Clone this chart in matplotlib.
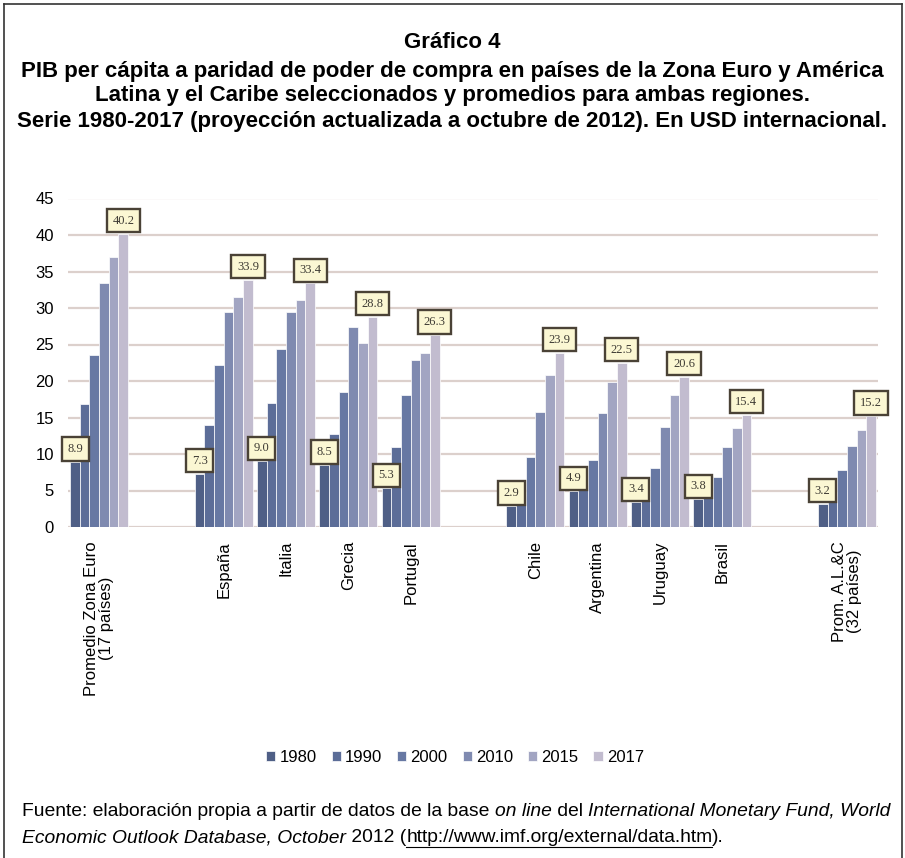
import numpy as np
import matplotlib
matplotlib.use("Agg")
import matplotlib.pyplot as plt
from matplotlib import font_manager
from matplotlib.lines import Line2D

# datos (miles de USD internacionales, PPA)
paises = ['Promedio Zona Euro\n(17 países)', 'España', 'Italia', 'Grecia', 'Portugal',
          'Chile', 'Argentina', 'Uruguay', 'Brasil', 'Prom. A.L.&C\n(32 países)']
anios = ['1980', '1990', '2000', '2010', '2015', '2017']
v1980 = [8.9, 7.3, 9.0, 8.5, 5.3, 2.9, 4.9, 3.4, 3.8, 3.2]
v1990 = [16.8, 14.0, 17.0, 12.7, 11.0, 4.3, 5.8, 5.0, 5.0, 4.3]
v2000 = [23.6, 22.2, 24.4, 18.5, 18.1, 9.6, 9.2, 8.1, 6.9, 7.8]
v2010 = [33.4, 29.5, 29.5, 27.4, 22.9, 15.8, 15.6, 13.7, 11.0, 11.1]
v2015 = [37.0, 31.5, 31.1, 25.2, 23.8, 20.8, 19.9, 18.1, 13.6, 13.3]
v2017 = [40.2, 33.9, 33.4, 28.8, 26.3, 23.9, 22.5, 20.6, 15.4, 15.2]
series = [v1980, v1990, v2000, v2010, v2015, v2017]
colores = ['#4f5f86', '#5c6d98', '#6778a3', '#7f8ab0', '#a2a5c2', '#c2bccf']

# fuentes
nombres = {f.name for f in font_manager.fontManager.ttflist}
narrow = 'Liberation Sans Narrow' if 'Liberation Sans Narrow' in nombres else 'Liberation Sans'
plt.rcParams['font.family'] = ['Liberation Sans', 'DejaVu Sans']

W, H = 905, 858
fig = plt.figure(figsize=(W / 100, H / 100), dpi=100)

def fx(px):
    return px / W

def fy(py):
    return 1 - py / H

# marco exterior
for (x0, y0, x1, y1) in [(4, 4, 4, H), (4, 4, 902, 4), (902, 4, 902, H)]:
    fig.add_artist(Line2D([fx(x0), fx(x1)], [fy(y0), fy(y1)], color='#333333', lw=1.2))

# titulo
fig.text(0.5, fy(42), 'Gráfico 4', ha='center', va='center', fontsize=16,
         fontweight='bold', family=narrow)
lineas = ['PIB per cápita a paridad de poder de compra en países de la Zona Euro y América',
          'Latina y el Caribe seleccionados y promedios para ambas regiones.',
          'Serie 1980-2017 (proyección actualizada a octubre de 2012). En USD internacional.']
for i, t in enumerate(lineas):
    fig.text(0.5, fy(71 + 25 * i), t, ha='center', va='center', fontsize=16,
             fontweight='bold', family=narrow)

# grafico
ax = fig.add_axes([fx(68), fy(527), fx(878) - fx(68), fy(198.5) - fy(527)])
# posiciones con huecos entre grupos
salto = np.array([0, 1, 1, 1, 1, 2, 2, 2, 2, 3])
x = np.arange(len(paises)) + salto
ancho = 0.155

for k, (vals, c) in enumerate(zip(series, colores)):
    xs = x + (k - 2.5) * ancho
    ax.bar(xs, vals, width=ancho, color=c, edgecolor='white', linewidth=0.5,
           label=anios[k], zorder=3)
    if k in (0, 5):
        for xi, v in zip(xs, vals):
            ax.annotate(f'{v:.1f}', (xi, v), xytext=(0, 5), textcoords='offset points',
                        ha='center', va='bottom', fontsize=9, color='#3d3a33',
                        family=['Liberation Serif', 'DejaVu Serif'], zorder=5,
                        bbox=dict(boxstyle='square,pad=0.45', fc='#fbf7d3',
                                  ec='#4a4236', lw=1.7))

ax.set_xlim(-0.5, 12.5)
ax.set_ylim(0, 45)
ax.set_yticks(np.arange(0, 46, 5))
ax.tick_params(axis='y', length=0, labelsize=12, pad=10)
ax.set_xticks(x)
ax.set_xticklabels(paises, rotation=90, fontsize=12, va='top', ha='center',
                   linespacing=1.0)
ax.tick_params(axis='x', length=0, pad=10)
ax.grid(axis='y', color='#dcd0cc', lw=1.6, zorder=0)
for s in ax.spines.values():
    s.set_visible(False)

fig.legend(loc='center', bbox_to_anchor=(fx(455), fy(757)), ncol=6, frameon=False,
           fontsize=12, handlelength=0.55, handleheight=0.55, handletextpad=0.25,
           columnspacing=0.9)

# fuente
renderer = fig.canvas.get_renderer()

def escribir(piezas, x0, ypx, size=13.9):
    xp = x0
    for texto, estilo, subrayado in piezas:
        t = fig.text(fx(xp), fy(ypx), texto, ha='left', va='center', fontsize=size,
                     family=narrow, style=estilo)
        bb = t.get_window_extent(renderer)
        if subrayado:
            fig.add_artist(Line2D([fx(xp), fx(xp + bb.width)],
                                  [fy(ypx + 9), fy(ypx + 9)], color='black', lw=0.8))
        xp += bb.width

escribir([('Fuente: elaboración propia a partir de datos de la base ', 'normal', False),
          ('on line', 'italic', False),
          (' del ', 'normal', False),
          ('International Monetary Fund, World', 'italic', False)], 22, 812)
escribir([('Economic Outlook Database, October', 'italic', False),
          (' 2012 (', 'normal', False),
          ('http://www.imf.org/external/data.htm', 'normal', True),
          (').', 'normal', False)], 22, 838)

fig.savefig('out.png', dpi=100)
